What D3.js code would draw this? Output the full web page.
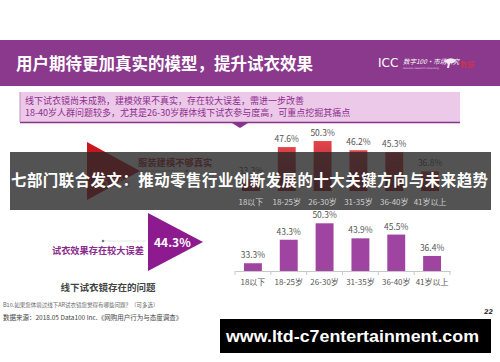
<!DOCTYPE html>
<html>
<head>
<meta charset="utf-8">
<script src="https://cdn.jsdelivr.net/npm/d3@7"></script>
<style>
  html, body { margin: 0; padding: 0; background: #fff; }
  svg { display: block; }
</style>
</head>
<body>
<svg id="canvas" width="500" height="362"></svg>
<script>
'use strict';

/* chart data */
const ages = ['18以下', '18-25岁', '26-30岁', '31-35岁', '36-40岁', '41岁以上'];
const modelNotReal = [33.3, 47.6, 50.3, 46.2, 45.3, 36.8];   // 服装建模不够真实
const tryOnError = [33.3, 43.3, 50.3, 43.9, 45.5, 36.4];     // 试衣效果存在较大误差
const issueLabels = ['服装建模不够真实', '试衣效果存在较大误差'];
const issueValues = [45.2, 44.3];

const titleText = '用户期待更加真实的模型，提升试衣效果';
const noteLines = [
  '线下试衣镜尚未成熟，建模效果不真实，存在较大误差，需进一步改善',
  '18-40岁人群问题较多，尤其是26-30岁群体线下试衣参与度高，可重点挖掘其痛点'
];
const overlayText = '七部门联合发文：推动零售行业创新发展的十大关键方向与未来趋势';
const urlText = 'www.ltd-c7entertainment.com';

const CJK = '"Noto Sans CJK SC", "Noto Sans", sans-serif';

let svg = d3.select('#canvas');

/* purple title banner */
svg.append('rect')
  .attr('x', 0).attr('y', 40).attr('width', 500).attr('height', 46)
  .attr('fill', '#8a398c');
svg.append('text')
  .attr('x', 16).attr('y', 70)
  .attr('fill', '#fff')
  .attr('font-family', CJK).attr('font-weight', 'bold').attr('font-size', 16.5)
  .text(titleText);

/* logo, roughly */
let logo = svg.append('g').attr('transform', 'translate(378,63)');
logo.append('text')
  .attr('x', 0).attr('y', 4)
  .attr('fill', '#fff').attr('font-family', 'DejaVu Sans').attr('font-size', 12)
  .text('ICC');
logo.append('text')
  .attr('x', 25).attr('y', 1)
  .attr('fill', '#fff').attr('font-family', CJK).attr('font-style', 'italic')
  .attr('font-size', 6.5)
  .text('数字100·市场研究');
logo.append('text')
  .attr('x', 25).attr('y', 6)
  .attr('fill', '#e9cfe9').attr('font-family', 'DejaVu Sans').attr('font-size', 2.5)
  .text('data100 research consulting');
logo.append('path')
  .attr('d', 'M66,-2 q6,-5 12,-1 q-2,4 -6,3 l-1,5 l-2,0 l1,-5 q-3,0 -4,-2z')
  .attr('fill', '#f3eaf3');
logo.append('text')
  .attr('x', 82).attr('y', 4)
  .attr('fill', '#d8323c').attr('font-family', CJK).attr('font-size', 7)
  .text('数据');

/* pink summary box */
svg.append('rect')
  .attr('x', 20).attr('y', 92).attr('width', 440).attr('height', 30)
  .attr('fill', '#ecc9e8');
svg.append('line')
  .attr('x1', 20).attr('x2', 460).attr('y1', 122.5).attr('y2', 122.5)
  .attr('stroke', '#86338a').attr('stroke-width', 1.5);
svg.append('line')
  .attr('x1', 20).attr('x2', 20).attr('y1', 92).attr('y2', 122)
  .attr('stroke', '#c690c4').attr('stroke-width', 1);
svg.append('path')
  .attr('d', 'M232,123 L248,123 L240,128 Z')
  .attr('fill', '#86338a');
svg.selectAll('text.note')
  .data(noteLines)
  .enter().append('text')
    .attr('class', 'note')
    .attr('x', 25)
    .attr('y', function(d, i){ return 104 + i * 11.5; })
    .attr('fill', '#8c2f8e')
    .attr('font-family', CJK).attr('font-size', 9)
    .text(function(d){ return d; });

/* scales for the two bar charts */
let xTop = d3.scaleBand().domain(ages).range([233, 448]).paddingInner(0.5).paddingOuter(0.25);
let xBot = d3.scaleBand().domain(ages).range([235, 450]).paddingInner(0.5).paddingOuter(0.25);
let yTop = d3.scaleLinear().domain([28, 55]).range([191, 130.5]);
let yBot = d3.scaleLinear().domain([30, 55]).range([271, 212.25]);

/* top chart: 服装建模不够真实 by age */
let topData = ages.map(function(a, i){ return {age: a, v: modelNotReal[i]}; });
let grad = svg.append('defs').append('linearGradient')
  .attr('id', 'redGrad').attr('x1', 0).attr('x2', 0).attr('y1', 0).attr('y2', 1);
grad.append('stop').attr('offset', '0%').attr('stop-color', '#e2454b');
grad.append('stop').attr('offset', '100%').attr('stop-color', '#a31c25');

svg.append('g').selectAll('rect')
  .data(topData)
  .enter().append('rect')
    .attr('x', function(d){ return xTop(d.age); })
    .attr('y', function(d){ return yTop(d.v); })
    .attr('width', xTop.bandwidth())
    .attr('height', function(d){ return yTop(28) - yTop(d.v); })
    .attr('fill', 'url(#redGrad)');
svg.append('g').selectAll('text')
  .data(topData)
  .enter().append('text')
    .attr('x', function(d){ return xTop(d.age) + xTop.bandwidth() / 2; })
    .attr('y', function(d){ return yTop(d.v) - 5; })
    .attr('text-anchor', 'middle')
    .attr('fill', '#555').attr('font-family', CJK).attr('font-size', 8.5)
    .text(function(d){ return d.v.toFixed(1) + '%'; });

/* red triangle with share for issue 1 */
let triTop = d3.scaleLinear().domain([0, 1]).range([142, 200]);
svg.append('path')
  .attr('d', 'M87,' + triTop(0) + ' L140,' + triTop(0.5) + ' L87,' + triTop(1) + ' Z')
  .attr('fill', '#c8161f');
svg.append('text')
  .attr('x', 95).attr('y', 187)
  .attr('fill', '#eab0b0').attr('font-family', CJK).attr('font-weight', 'bold')
  .attr('font-size', 11.5)
  .text(issueValues[0].toFixed(1) + '%');
svg.append('text')
  .attr('x', 138).attr('y', 166)
  .attr('fill', '#b12d35').attr('font-family', CJK).attr('font-weight', 'bold')
  .attr('font-size', 9.3)
  .text(issueLabels[0]);
svg.append('line')
  .attr('x1', 138).attr('x2', 186).attr('y1', 171).attr('y2', 171)
  .attr('stroke', '#999').attr('stroke-width', 0.6);
svg.append('circle').attr('cx', 187).attr('cy', 171).attr('r', 1.3).attr('fill', '#777');

/* grey news overlay across the top chart */
svg.append('rect')
  .attr('x', 10).attr('y', 152).attr('width', 481).attr('height', 58)
  .attr('fill', 'rgb(40,40,40)').attr('fill-opacity', 0.8);

/* top chart axis labels show lighter through the overlay */
svg.append('g')
  .attr('transform', 'translate(0,191)')
  .call(d3.axisBottom(xTop).tickSize(0).tickPadding(8))
  .call(function(g){ g.select('.domain').remove(); })
  .selectAll('text')
    .attr('fill', '#cfcfcf').attr('font-family', CJK).attr('font-size', 8);

svg.append('text')
  .attr('x', 11).attr('y', 186)
  .attr('fill', '#fff').attr('font-family', CJK).attr('font-weight', 'bold')
  .attr('font-size', 15.4)
  .attr('textLength', 477).attr('lengthAdjust', 'spacing')
  .text(overlayText);

/* bottom chart: 试衣效果存在较大误差 by age */
let botData = ages.map(function(a, i){ return {age: a, v: tryOnError[i]}; });
svg.append('g').selectAll('rect')
  .data(botData)
  .enter().append('rect')
    .attr('x', function(d){ return xBot(d.age); })
    .attr('y', function(d){ return yBot(d.v); })
    .attr('width', xBot.bandwidth())
    .attr('height', function(d){ return yBot(30) - yBot(d.v); })
    .attr('fill', '#a044a2');
svg.append('g').selectAll('text')
  .data(botData)
  .enter().append('text')
    .attr('x', function(d){ return xBot(d.age) + xBot.bandwidth() / 2; })
    .attr('y', function(d){ return yBot(d.v) - 5; })
    .attr('text-anchor', 'middle')
    .attr('fill', '#555').attr('font-family', CJK).attr('font-size', 8.5)
    .text(function(d){ return d.v.toFixed(1) + '%'; });

let botAxis = svg.append('g').attr('transform', 'translate(0,271)');
botAxis.call(d3.axisBottom(xBot).tickSize(0).tickPadding(8))
  .call(function(g){ g.select('.domain').attr('stroke', '#c8c8c8'); })
  .selectAll('text')
    .attr('fill', '#555').attr('font-family', CJK).attr('font-size', 8);
/* tick marks between categories */
botAxis.selectAll('line.sep')
  .data(d3.range(ages.length + 1))
  .enter().append('line')
    .attr('class', 'sep')
    .attr('x1', function(i){ return 235 + i * xBot.step(); })
    .attr('x2', function(i){ return 235 + i * xBot.step(); })
    .attr('y1', 0).attr('y2', 4)
    .attr('stroke', '#c8c8c8');

/* purple triangle with share for issue 2 */
let triBot = d3.scaleLinear().domain([0, 1]).range([213, 271]);
svg.append('path')
  .attr('d', 'M148,' + triBot(0) + ' L203,' + triBot(0.5) + ' L148,' + triBot(1) + ' Z')
  .attr('fill', '#8d1b8f');
svg.append('text')
  .attr('x', 154).attr('y', 247)
  .attr('fill', '#fff').attr('font-family', CJK).attr('font-weight', 'bold')
  .attr('font-size', 12)
  .text(issueValues[1].toFixed(1) + '%');
svg.append('text')
  .attr('x', 52).attr('y', 254)
  .attr('fill', '#8a2a8c').attr('font-family', CJK).attr('font-weight', 'bold')
  .attr('font-size', 9.2)
  .text(issueLabels[1]);
svg.append('line')
  .attr('x1', 103).attr('x2', 146).attr('y1', 241).attr('y2', 241)
  .attr('stroke', '#ccc').attr('stroke-width', 0.5);
svg.append('circle').attr('cx', 103).attr('cy', 241).attr('r', 1.3).attr('fill', '#777');

/* chart caption and footnotes */
svg.append('text')
  .attr('x', 108).attr('y', 291)
  .attr('text-anchor', 'middle')
  .attr('fill', '#444').attr('font-family', CJK).attr('font-weight', 'bold')
  .attr('font-size', 9.5)
  .text('线下试衣镜存在的问题');
svg.append('text')
  .attr('x', 3).attr('y', 307)
  .attr('fill', '#666').attr('font-family', CJK).attr('font-size', 5.5)
  .text('B10.如果您体验过线下AR试衣镜您觉得有哪些问题？（可多选）');
svg.append('text')
  .attr('x', 3).attr('y', 320)
  .attr('fill', '#444').attr('font-family', CJK).attr('font-size', 6.5)
  .text('数据来源：2018.05 Data100 Inc.《网购用户行为与态度调查》');
svg.append('text')
  .attr('x', 484).attr('y', 314)
  .attr('fill', '#333').attr('font-family', 'DejaVu Sans').attr('font-weight', 'bold')
  .attr('font-style', 'italic').attr('font-size', 6.5)
  .text('22');

/* black url banner */
svg.append('rect')
  .attr('x', 220).attr('y', 319).attr('width', 271).attr('height', 34)
  .attr('fill', '#000');
svg.append('text')
  .attr('x', 226).attr('y', 342)
  .attr('fill', '#fff').attr('font-family', '"Liberation Sans", Arial, sans-serif')
  .attr('font-weight', 'bold')
  .attr('font-size', 17)
  .attr('textLength', 253).attr('lengthAdjust', 'spacingAndGlyphs')
  .text(urlText);
</script>
</body>
</html>
